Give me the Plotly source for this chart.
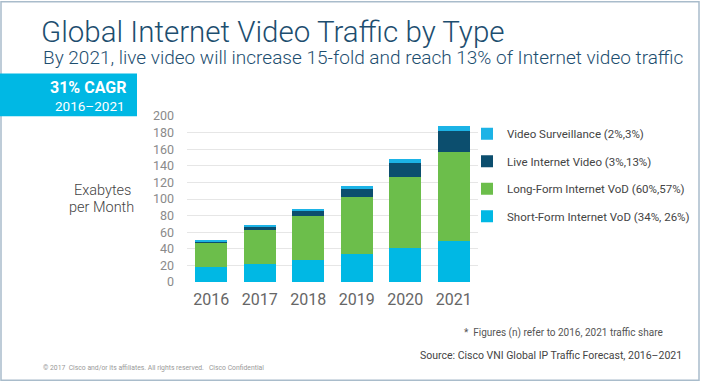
import plotly.graph_objects as go

years = ["2016", "2017", "2018", "2019", "2020", "2021"]
short_form = [17.5, 22, 27, 34, 41, 49]
long_form = [29.5, 41, 53, 69, 86, 108]
live_video = [1.5, 3.5, 6.5, 9, 16, 24.5]
surveillance = [1, 1.2, 2, 3.5, 5, 7]

series_names = [
    "Short-Form Internet VoD (34%, 26%)",
    "Long-Form Internet VoD (60%,57%)",
    "Live Internet Video (3%,13%)",
    "Video Surveillance (2%,3%)",
]
series_values = [short_form, long_form, live_video, surveillance]
series_colors = ["#00b8e4", "#6cbe4b", "#0c4e6e", "#1cb3e6"]
y_ticks = [0, 20, 40, 60, 80, 100, 120, 140, 160, 180, 200]

W, H = 702, 385
L, R, T, B = 187, 478, 115.7, 282.3


def xp(px):
    return (px - L) / (R - L)


def yp(py):
    return (B - py) / (B - T)


fig = go.Figure()
for i, (name, vals, col) in enumerate(zip(series_names, series_values, series_colors)):
    fig.add_trace(go.Bar(x=years, y=vals, name=name, marker_color=col,
                         marker_line_width=0, legendgroup=f"g{i}", legendrank=10 - i))

fig.update_layout(
    width=W, height=H,
    margin=dict(l=L, r=W - R, t=T, b=H - B, pad=0, autoexpand=False),
    barmode="stack", bargap=0.34,
    plot_bgcolor="white", paper_bgcolor="white",
    font=dict(family="Roboto", color="#555555"),
    showlegend=True,
    legend=dict(x=xp(467), y=yp(119), xanchor="left", yanchor="top",
                traceorder="grouped", tracegroupgap=8.5,
                font=dict(size=11.5, color="#444444"), bgcolor="rgba(0,0,0,0)"),
    xaxis=dict(tickfont=dict(size=16, color="#666666"), showline=False,
               ticks="", showgrid=False, ticklabelstandoff=6),
    yaxis=dict(range=[0, 200], tickvals=y_ticks, tickfont=dict(size=12.5, color="#8a8a8a"),
               showgrid=True, gridcolor="#e6e6e6", gridwidth=1, zeroline=False,
               ticks="", ticklabelstandoff=12),
)

shapes = [
    dict(type="rect", xref="paper", yref="paper", x0=xp(1), x1=xp(699), y0=yp(1), y1=yp(381),
         line=dict(color="#a9bccb", width=1.5), fillcolor="rgba(0,0,0,0)", layer="below"),
    dict(type="rect", xref="paper", yref="paper", x0=xp(0), x1=xp(137), y0=yp(73), y1=yp(116),
         line=dict(width=0), fillcolor="#00b8e4", layer="below"),
]
fig.update_layout(shapes=shapes)

ann = [
    dict(text="Global Internet Video Traffic by Type", x=xp(39), y=yp(31), xanchor="left",
         yanchor="middle", font=dict(size=29.5, color="#1d4e6f", family="Roboto", weight=300)),
    dict(text="By 2021, live video will increase 15-fold and reach 13% of Internet video traffic",
         x=xp(41), y=yp(57), xanchor="left", yanchor="middle",
         font=dict(size=19, color="#1d4e6f", family="Roboto", weight=300)),
    dict(text="<b>31% CAGR</b>", x=xp(128), y=yp(87.5), xanchor="right", yanchor="middle",
         font=dict(size=16, color="white", family="Roboto")),
    dict(text="2016–2021", x=xp(127), y=yp(106), xanchor="right", yanchor="middle",
         font=dict(size=13.5, color="white", family="Roboto")),
    dict(text="Exabytes", x=xp(102), y=yp(190.7), xanchor="center", yanchor="middle",
         font=dict(size=14.5, color="#444444", family="Roboto", weight=300)),
    dict(text="per Month", x=xp(101), y=yp(207.3), xanchor="center", yanchor="middle",
         font=dict(size=14.5, color="#444444", family="Roboto", weight=300)),
    dict(text="*  Figures (n) refer to 2016, 2021 traffic share", x=xp(665), y=yp(333),
         xanchor="right", yanchor="middle", font=dict(size=10, color="#555555", family="Roboto")),
    dict(text="Source: Cisco VNI Global IP Traffic Forecast, 2016–2021", x=xp(684), y=yp(356),
         xanchor="right", yanchor="middle", font=dict(size=10.5, color="#444444", family="Roboto")),
    dict(text="© 2017  Cisco and/or its affiliates. All rights reserved.   Cisco Confidential",
         x=xp(41), y=yp(369), xanchor="left", yanchor="middle",
         font=dict(size=6.8, color="#999999", family="Roboto")),
]
for a in ann:
    a.update(xref="paper", yref="paper", showarrow=False)
fig.update_layout(annotations=ann)

fig.write_html("out.html", config={"displayModeBar": False},
               post_script="document.body.style.margin='0px';document.body.style.overflow='hidden';")
